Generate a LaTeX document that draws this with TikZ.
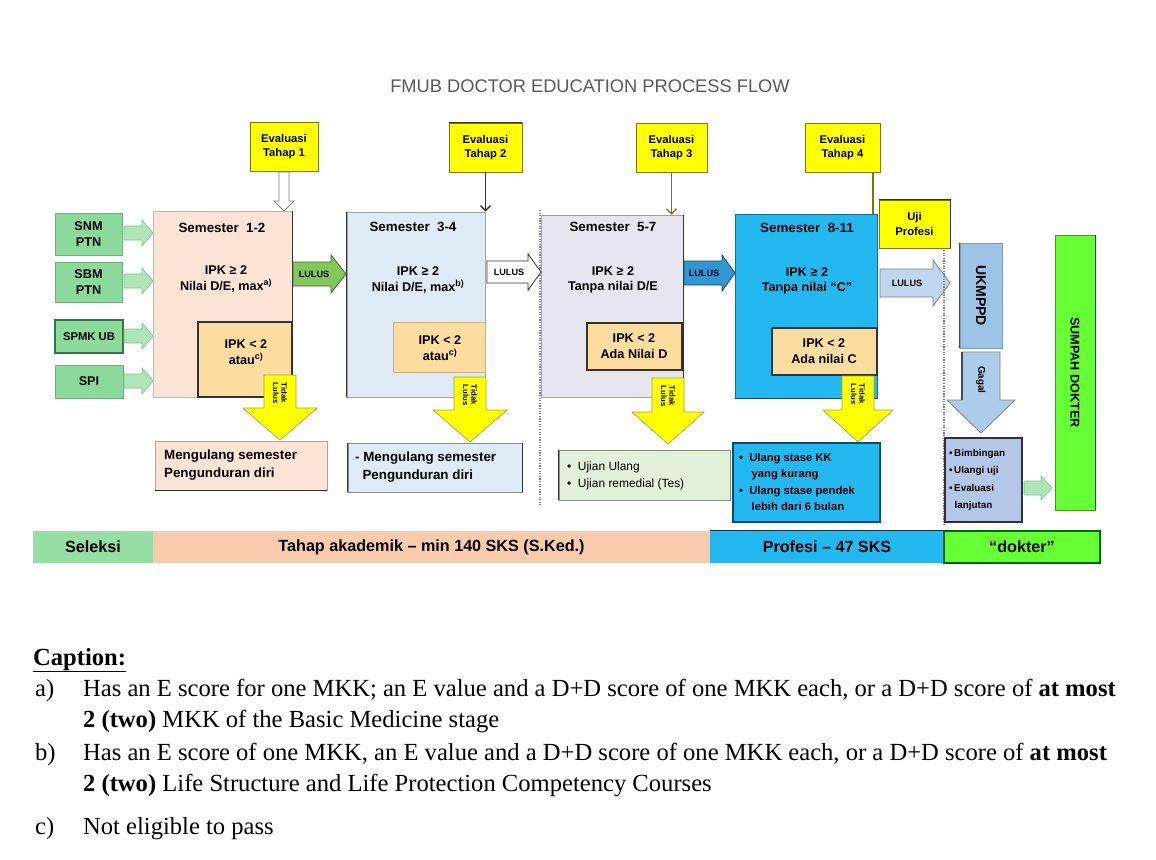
\documentclass[tikz,border=0pt]{standalone}
\usepackage{fontspec}
\setmainfont{Liberation Serif}
\newfontfamily\dfont{Liberation Sans}
\usetikzlibrary{arrows.meta,fit}
\definecolor{entg}{RGB}{140,218,155}
\definecolor{entgd}{RGB}{50,120,70}
\definecolor{peach}{RGB}{251,228,214}
\definecolor{orng}{RGB}{253,220,160}
\definecolor{ylw}{RGB}{255,255,0}
\definecolor{ylwd}{RGB}{120,120,0}
\definecolor{lblue}{RGB}{222,235,247}
\definecolor{lgray}{RGB}{231,230,238}
\definecolor{cyanb}{RGB}{35,185,240}
\definecolor{lgreen}{RGB}{226,240,217}
\definecolor{arrg}{RGB}{130,200,90}
\definecolor{arrb}{RGB}{50,150,210}
\definecolor{arrlb}{RGB}{190,215,238}
\definecolor{steel}{RGB}{157,195,230}
\definecolor{steelb}{RGB}{180,199,231}
\definecolor{brgreen}{RGB}{102,255,51}
\definecolor{tahap}{RGB}{248,203,173}
\definecolor{dkl}{RGB}{50,50,50}
\newcommand\rblk[7]{\draw[#7] (#1,{#3-#4}) -- ({#2-#6},{#3-#4}) -- ({#2-#6},{#3-#5}) -- (#2,#3) -- ({#2-#6},{#3+#5}) -- ({#2-#6},{#3+#4}) -- (#1,{#3+#4}) -- cycle;}
\newcommand\dblk[7]{\draw[#7] ({#1-#4},#2) -- ({#1+#4},#2) -- ({#1+#4},{#3-#6}) -- ({#1+#5},{#3-#6}) -- (#1,#3) -- ({#1-#5},{#3-#6}) -- ({#1-#4},{#3-#6}) -- cycle;}
\begin{document}
\begin{tikzpicture}[x=0.5mm,y=-0.5mm,
  box/.style={inner sep=0pt, line width=0.4mm},
  tx/.style={font=\dfont\bfseries\fontsize{18}{22}\selectfont, inner sep=0pt, align=center},
  ev/.style={font=\dfont\bfseries\fontsize{16}{20}\selectfont, inner sep=0pt, align=center},
  lu/.style={font=\dfont\bfseries\fontsize{13}{15}\selectfont, inner sep=0pt},
  stx/.style={font=\dfont\bfseries\fontsize{19}{25}\selectfont, inner sep=0pt, align=left},
  vtx/.style={font=\dfont\bfseries\fontsize{11}{12}\selectfont, inner sep=0pt, align=center, rotate=-90},
  bar/.style={font=\dfont\bfseries\fontsize{23}{26}\selectfont, inner sep=0pt},
  captx/.style={font=\fontsize{35}{40}\selectfont, inner sep=0pt, anchor=base west},
  dark/.style={draw=dkl, line width=0.8mm}]
\fill[white] (0,0) rectangle (1156,859);
\useasboundingbox (0,0) rectangle (1156,859);

% title
\node[font=\dfont\fontsize{26}{28}\selectfont, text=black!65] (title) at (590,86) {FMUB DOCTOR EDUCATION PROCESS FLOW};

% entry boxes
\node[box, fit={(55,213)(122,255)}, fill=entg, draw=entg!80!black] (en1) {};
\node[tx] at (en1) {SNM\\PTN};
\node[box, fit={(55,262)(122,302)}, fill=entg, draw=entg!80!black] (en2) {};
\node[tx] at (en2) {SBM\\PTN};
\node[box, fit={(55,320)(123,353)}, fill=entg, draw=entgd, line width=0.8mm] (en3) {};
\node[tx, font=\dfont\bfseries\fontsize{16}{20}\selectfont] at (en3) {SPMK UB};
\node[box, fit={(55,365)(123,398)}, fill=entg, draw=entg!80!black] (en4) {};
\node[tx] at (en4) {SPI};
\foreach \cy in {233,281,336,381}{\rblk{124}{153}{\cy}{7}{13}{11}{fill=entg!70, draw=entg!90!black, line width=0.3mm}}

% semester boxes
\node[box, fit={(153,211)(292,397)}, fill=peach, draw=peach!80!black] (s1) {};
\node[box, fit={(347,212)(485,397)}, fill=lblue, draw=lblue!70!black] (s2) {};
\node[box, fit={(541,215)(683,397)}, fill=lgray, draw=lgray!70!black] (s3) {};
\node[box, fit={(735,214)(877,398)}, fill=cyanb, draw=cyanb!60!black] (s4) {};
\draw[dark] (s1.north east) -- (s1.south east);
\draw[dark] (s2.north west) -- (s2.south west);
\draw[dark] (s3.north east) -- (s3.south east);
\draw[dark, draw=cyanb!40!black] (s4.south west) -- (s4.south east);

% inner orange boxes
\node[box, fit={(198,322)(292,397)}, fill=orng, draw=dkl, line width=0.6mm] (i1) {};
\node[box, fit={(393,322)(485,372)}, fill=orng, draw=orng!80!black] (i2) {};
\node[box, fit={(587,323)(682,370)}, fill=orng, draw=dkl, line width=0.6mm] (i3) {};
\node[box, fit={(772,328)(877,375)}, fill=orng, draw=dkl, line width=0.6mm] (i4) {};

% semester texts
\node[tx, font=\dfont\bfseries\fontsize{19}{22}\selectfont] (s1t) at (222,228) {Semester\ \ 1-2};
\node[tx] (s1a) at (226,279) {IPK ≥ 2\\Nilai D/E, max\textsuperscript{a)}};
\node[tx] (s1b) at (246,352) {IPK < 2\\atau\textsuperscript{c)}};
\node[tx, font=\dfont\bfseries\fontsize{19}{22}\selectfont] (s2t) at (413,227) {Semester\ \ 3-4};
\node[tx] (s2a) at (418,280) {IPK ≥ 2\\Nilai D/E, max\textsuperscript{b)}};
\node[tx] (s2b) at (440,348) {IPK < 2\\atau\textsuperscript{c)}};
\node[tx, font=\dfont\bfseries\fontsize{19}{22}\selectfont] (s3t) at (613,227) {Semester\ \ 5-7};
\node[tx] (s3a) at (613,280) {IPK ≥ 2\\Tanpa nilai D/E};
\node[tx] (s3b) at (634,346) {IPK < 2\\Ada Nilai D};
\node[tx, font=\dfont\bfseries\fontsize{19}{22}\selectfont] (s4t) at (807,228) {Semester\ \ 8-11};
\node[tx] (s4a) at (807,281) {IPK ≥ 2\\Tanpa nilai “C”};
\node[tx] (s4b) at (824,351) {IPK < 2\\Ada nilai C};

% evaluation boxes
\node[box, fit={(250,122)(318,171)}, fill=ylw, draw=ylwd] (e1) {};
\node[ev] at (e1) {Evaluasi\\Tahap 1};
\node[box, fit={(449,123)(522,172)}, fill=ylw, draw=ylwd] (e2) {};
\draw[dark] (e2.north west) -- (e2.north east);
\node[ev] at (e2) {Evaluasi\\Tahap 2};
\node[box, fit={(636,123)(707,172)}, fill=ylw, draw=ylwd] (e3) {};
\node[ev] at (e3) {Evaluasi\\Tahap 3};
\node[box, fit={(805,123)(880,172)}, fill=ylw, draw=ylwd] (e4) {};
\node[ev] at (e4) {Evaluasi\\Tahap 4};
\node[box, fit={(879,200)(950,248)}, fill=ylw, draw=ylwd] (up) {};
\draw[dark] (up.north west) -- (up.north east) -- (up.south east);
\node[ev] at (up) {Uji\\Profesi};

% evaluation connectors
\dblk{284}{172}{211}{5}{10}{10}{fill=white, draw=gray, line width=0.4mm}
\draw[line width=0.7mm, draw=dkl, -{Straight Barb[length=2.5mm,width=5mm]}] (e2.south) -- (e2.south |- s2.north);
\draw[line width=0.6mm, draw=ylwd, -{Straight Barb[length=2.5mm,width=5mm]}] (e3.south) -- (e3.south |- s3.north);
\coordinate (e4b) at (873,172);
\draw[line width=0.6mm, draw=ylwd] (e4b) -- (e4b |- s4.north);

% LULUS arrows
\rblk{293}{346}{274}{12}{19}{15}{fill=arrg, draw=arrg!50!black, line width=0.4mm}
\node[lu] (l1) at (314,274) {LULUS};
\rblk{487}{541}{272}{11}{18}{13}{fill=white, draw=dkl, line width=0.4mm}
\node[lu] (l2) at (509,272) {LULUS};
\rblk{684}{735}{273}{12}{18}{13}{fill=arrb, draw=arrb!50!black, line width=0.4mm}
\node[lu] (l3) at (704,273) {LULUS};
\rblk{880}{950}{283}{14}{23}{17}{fill=arrlb, draw=arrlb!60!black, line width=0.4mm}
\node[lu] (l4) at (907,283) {LULUS};

% yellow down arrows
\dblk{280}{375}{440}{16}{37}{32}{fill=ylw, draw=ylwd!70, line width=0.3mm}
\node[vtx] (y1) at (280,393) {Tidak\\Lulus};
\dblk{470}{377}{442}{16}{37}{32}{fill=ylw, draw=ylwd!70, line width=0.3mm}
\node[vtx] (y2) at (470,395) {Tidak\\Lulus};
\dblk{668}{378}{444}{16}{36}{32}{fill=ylw, draw=ylwd!70, line width=0.3mm}
\node[vtx] (y3) at (668,396) {Tidak\\Lulus};
\dblk{858}{376}{442}{16}{35}{32}{fill=ylw, draw=ylwd!70, line width=0.3mm}
\node[vtx] (y4) at (858,394) {Tidak\\Lulus};

% bottom boxes
\node[box, fit={(155,441)(327,490)}, fill=peach, draw=peach!70!black] (b1) {};
\draw[dark] (b1.south west) -- (b1.south east);
\node[stx, anchor=west] at (164,465) {Mengulang semester\\Pengunduran diri};
\node[box, fit={(348,443)(522,492)}, fill=lblue, draw=lblue!60!black] (b2) {};
\draw[dark] (b2.north west) -- (b2.south west);
\draw[dark] (b2.north east) -- (b2.south east);
\node[stx, anchor=west] at (355,467) {- Mengulang semester\\\ \ Pengunduran diri};
\node[box, fit={(559,450)(730,500)}, fill=lgreen, draw=lgreen!60!black] (b3) {};
\draw[dark] (b3.north west) -- (b3.south west);
\node[stx, anchor=west, font=\dfont\fontsize{17}{24}\selectfont] at (567,476) {•\ \ Ujian Ulang\\•\ \ Ujian remedial (Tes)};
\node[box, fit={(733,443)(880,522)}, fill=cyanb, draw=cyanb!40!black, line width=0.7mm] (b4) {};
\node[stx, anchor=west, font=\dfont\bfseries\fontsize{16}{23}\selectfont] at (739,482) {•\ \ Ulang stase KK\\\ \ \ \ yang kurang\\•\ \ Ulang stase pendek\\\ \ \ \ lebih dari 6 bulan};

% dotted separators
\coordinate (d1t) at (540,210); \coordinate (d1b) at (540,505);
\draw[dotted, line width=0.6mm, draw=gray] (d1t) -- (d1b);
\coordinate (d2t) at (944,250); \coordinate (d2b) at (944,525);
\draw[dotted, line width=0.6mm, draw=gray] (d2t) -- (d2b);

% UKMPPD
\node[box, fit={(960,243)(1002,348)}, fill=steel, draw=steel!80!black] (uk) {};
\draw[dark, draw=steel!40!black] (uk.north west) -- (uk.south west);
\node[tx, rotate=-90, font=\dfont\bfseries\fontsize{20}{22}\selectfont] at (uk) {UKMPPD};
\dblk{981}{352}{433}{19}{34}{33}{fill=steel!85, draw=gray, line width=0.4mm}
\draw[dark, draw=steel!40!black] (962,352) -- (962,400);
\node[vtx, font=\dfont\bfseries\fontsize{14}{15}\selectfont] (gg) at (981,380) {Gagal};
\node[box, fit={(945,438)(1022,522)}, fill=steelb, draw=dkl, line width=0.6mm] (uf) {};
\node[stx, anchor=west, font=\dfont\bfseries\fontsize{14}{25}\selectfont] at (949,480) {•\,Bimbingan\\•\,Ulangi uji\\•\,Evaluasi\\\ \ lanjutan};
\rblk{1024}{1052}{488}{7}{12}{11}{fill=entg!70, draw=entg!90!black, line width=0.3mm}

% big green bar
\node[box, fit={(1055,235)(1095,510)}, fill=brgreen, draw=brgreen!60!black] (sd) {};
\draw[dark, draw=black!60!green] (sd.north east) -- (sd.south east);
\node[tx, rotate=-90] at (sd) {SUMPAH DOKTER};

% bottom bar
\node[box, fit={(33,531)(153,563)}, fill=entg!90, draw=none] (bb1) {};
\node[bar] at (bb1) {Seleksi};
\node[box, fit={(153,531)(710,563)}, fill=tahap, draw=none] (bb2) {};
\node[bar] at (bb2) {Tahap akademik – min 140 SKS (S.Ked.)};
\node[box, fit={(710,531)(944,563)}, fill=cyanb, draw=none] (bb3) {};
\draw[dark, draw=cyanb!30!black] (bb3.north west) -- (bb3.north east);
\node[bar] at (bb3) {Profesi – 47 SKS};
\node[box, fit={(944,531)(1100,563)}, fill=brgreen, draw=black!60!green, line width=0.7mm] (bb4) {};
\node[bar] at (bb4) {“dokter”};

% caption
\node[captx, font=\bfseries\fontsize{35}{40}\selectfont] (ct) at (33,665) {\underline{Caption:}};
\node[captx] (ca) at (35,696) {a)};
\node[captx] (ca1) at (83,696) {Has an E score for one MKK; an E value and a D+D score of one MKK each, or a D+D score of \textbf{at most}};
\node[captx] (ca2) at (83,727) {\textbf{2 (two)} MKK of the Basic Medicine stage};
\node[captx] (cb) at (35,760) {b)};
\node[captx] (cb1) at (83,760) {Has an E score of one MKK, an E value and a D+D score of one MKK each, or a D+D score of \textbf{at most}};
\node[captx] (cb2) at (83,791) {\textbf{2 (two)} Life Structure and Life Protection Competency Courses};
\node[captx] (cc) at (35,834) {c)};
\node[captx] (cc1) at (83,834) {Not eligible to pass};
\end{tikzpicture}
\end{document}
